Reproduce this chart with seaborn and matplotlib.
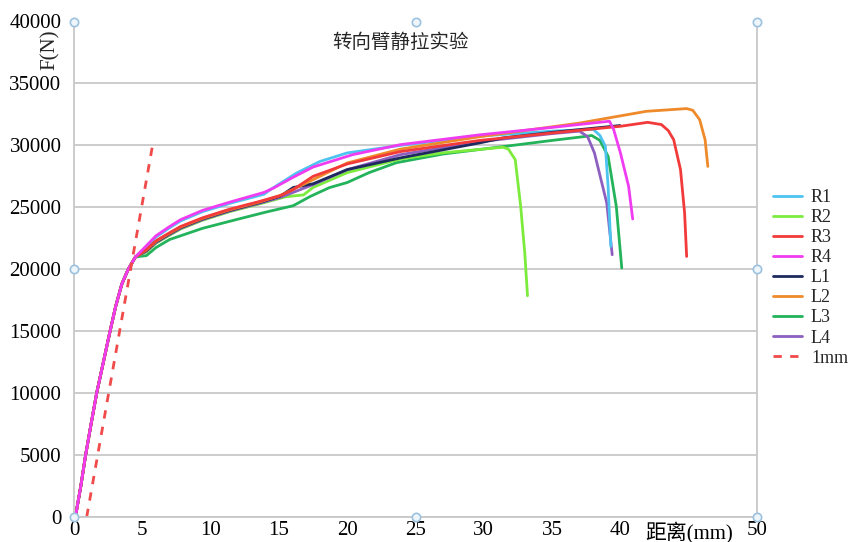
import numpy as np
import pandas as pd
import matplotlib
matplotlib.use('Agg')
import matplotlib.pyplot as plt
import seaborn as sn

# shared elastic part (mm, N)
rise_x = [0.15, 0.5, 0.85, 1.25, 1.66, 2.15, 2.64, 3.05, 3.5, 3.97, 4.5]
rise_y = [300, 2500, 5000, 7500, 10000, 12500, 15000, 17000, 18800, 20000, 21000]

r1_x = [5.3, 6.0, 7.0, 7.8, 9.4, 11.5, 13.9, 14.4, 16.3, 18.0, 20.0, 23.9, 29.7, 35.0, 38.0, 38.5, 38.9, 39.1, 39.3]
r1_y = [21800, 22600, 23350, 23900, 24650, 25350, 26050, 26450, 27770, 28700, 29390, 30000, 30750, 31150, 31300, 30800, 29930, 26690, 21840]

r2_x = [5.3, 6.0, 7.0, 7.8, 9.4, 11.4, 13.5, 15.5, 16.8, 17.5, 20.0, 23.9, 27.0, 31.4, 31.8, 32.3, 32.7, 33.0, 33.2]
r2_y = [21400, 22100, 22750, 23250, 23950, 24650, 25250, 25850, 26000, 26600, 27800, 28900, 29400, 29850, 29700, 28850, 25080, 21300, 17860]

r3_x = [5.3, 6.0, 7.0, 7.8, 9.4, 11.4, 13.5, 15.1, 16.0, 17.5, 20.0, 23.9, 29.7, 35.0, 40.0, 42.0, 43.0, 43.5, 43.9, 44.4, 44.7, 44.85]
r3_y = [21600, 22300, 22950, 23450, 24150, 24850, 25450, 25950, 26400, 27500, 28500, 29500, 30400, 31000, 31540, 31860, 31680, 31200, 30460, 28040, 24540, 21030]

r4_x = [5.3, 6.0, 7.0, 7.8, 9.4, 11.5, 13.9, 14.6, 16.0, 17.5, 20.4, 23.9, 29.7, 35.0, 39.2, 39.5, 40.0, 40.6, 40.9]
r4_y = [21900, 22700, 23450, 24000, 24750, 25450, 26200, 26550, 27400, 28250, 29250, 30060, 30850, 31450, 31950, 31300, 29400, 26700, 24060]

l1_x = [5.3, 6.0, 7.0, 7.8, 9.4, 11.4, 13.5, 15.1, 16.05, 17.5, 20.0, 23.9, 29.7, 31.4, 35.0, 39.97]
l1_y = [21500, 22200, 22850, 23350, 24050, 24750, 25350, 25900, 26600, 26900, 28040, 28990, 30200, 30600, 31050, 31600]

l2_x = [5.3, 6.0, 7.0, 7.8, 9.4, 11.4, 13.5, 15.1, 17.0, 20.0, 23.9, 29.7, 37.0, 41.9, 44.85, 45.3, 45.8, 46.2, 46.4]
l2_y = [21550, 22250, 22900, 23400, 24100, 24800, 25400, 25950, 26960, 28580, 29700, 30700, 31800, 32750, 32970, 32830, 32080, 30460, 28300]

l3_x = [5.3, 6.0, 7.0, 7.8, 9.4, 11.85, 14.0, 16.05, 17.3, 18.7, 20.0, 21.6, 23.6, 27.0, 31.4, 35.0, 37.5, 37.9, 38.5, 39.1, 39.7, 40.1]
l3_y = [21100, 21750, 22400, 22700, 23300, 24000, 24600, 25130, 25880, 26590, 27000, 27800, 28600, 29300, 29900, 30400, 30730, 30800, 30400, 29120, 25080, 20100]

l4_x = [5.3, 6.0, 7.0, 7.8, 9.4, 11.4, 13.5, 15.1, 17.5, 20.0, 23.9, 29.7, 35.0, 37.0, 37.6, 38.1, 39.0, 39.4]
l4_y = [21450, 22150, 22800, 23300, 24000, 24700, 25300, 25800, 26830, 28040, 29250, 30300, 30950, 31150, 30700, 29390, 25350, 21170]

mm_x = [0.93, 5.75]
mm_y = [0, 30000]

names = ['R1', 'R2', 'R3', 'R4', 'L1', 'L2', 'L3', 'L4']
tails = [(r1_x, r1_y), (r2_x, r2_y), (r3_x, r3_y), (r4_x, r4_y),
         (l1_x, l1_y), (l2_x, l2_y), (l3_x, l3_y), (l4_x, l4_y)]
colors = ['#4DC3F0', '#7CEB3C', '#F23A3A', '#F03CF0', '#1E2A5E', '#EE8A2A', '#23B35A', '#8C5FC0']

xticks = [0, 5, 10, 15, 20, 25, 30, 35, 40, 45, 50]
xticklabels = ['0', '5', '10', '15', '20', '25', '30', '35', '40', '距离(mm)', '50']
yticks = [0, 5000, 10000, 15000, 20000, 25000, 30000, 35000, 40000]

sn.set_theme(style='white')
plt.rcParams['font.family'] = ['Liberation Serif', 'Noto Sans CJK SC']

fig = plt.figure(figsize=(8.52, 5.42), dpi=100)
ax = fig.add_axes([74/852, 25/542, 683/852, 495.5/542])

# draw order: later ones on top
order = [6, 1, 7, 0, 4, 5, 2, 3]
for i in order:
    tx, ty = tails[i]
    sn.lineplot(x=rise_x + tx, y=rise_y + ty, sort=False, estimator=None,
                color=colors[i], linewidth=2.0, ax=ax, label=names[i])
sn.lineplot(x=mm_x, y=mm_y, sort=False, estimator=None, color='#F04A4A',
            linewidth=2.0, linestyle=(0, (3, 3)), ax=ax, label='1mm')

ax.set_xlim(0, 50)
ax.set_ylim(0, 40000)
ax.set_xticks(xticks)
ax.set_xticklabels(xticklabels)
ax.set_yticks(yticks)
ax.tick_params(axis='both', length=0, labelsize=15, colors='black')
ax.tick_params(axis='x', pad=3)
ax.tick_params(axis='y', pad=9)
ax.yaxis.grid(True, color='#C8C8C8', linewidth=1.3)
ax.xaxis.grid(False)
for s in ['left', 'right', 'bottom']:
    ax.spines[s].set_color('#C8C8C8')
    ax.spines[s].set_linewidth(1.3)
ax.spines['top'].set_visible(False)
ax.set_xlabel('')
ax.set_ylabel('')

# chart selection handles
hx = [0, 0.5, 1, 0, 1, 0, 0.5, 1]
hy = [1, 1, 1, 0.5, 0.5, 0, 0, 0]
ax.plot(hx, hy, 'o', transform=ax.transAxes, clip_on=False, markersize=6,
        markerfacecolor='#EEF5FB', markeredgecolor='#9CC2E0', markeredgewidth=1.2, zorder=5)

ax.text(0.478, 0.957, '转向臂静拉实验', transform=ax.transAxes, ha='center', va='center',
        fontsize=14, family=['Noto Sans CJK SC'])
fig.text(50/852, 1 - 50/542, 'F(N)', rotation=90, ha='center', va='center', fontsize=15)

handles, labels = ax.get_legend_handles_labels()
idx = [labels.index(n) for n in names + ['1mm']]
leg = ax.legend([handles[k] for k in idx], [labels[k] for k in idx],
                loc='upper left', bbox_to_anchor=(764/852, 1 - 180/542),
                bbox_transform=fig.transFigure, frameon=False, fontsize=13,
                handlelength=1.6, handletextpad=0.5, labelspacing=0.17, borderpad=0)

plt.savefig('out.png', dpi=100)
